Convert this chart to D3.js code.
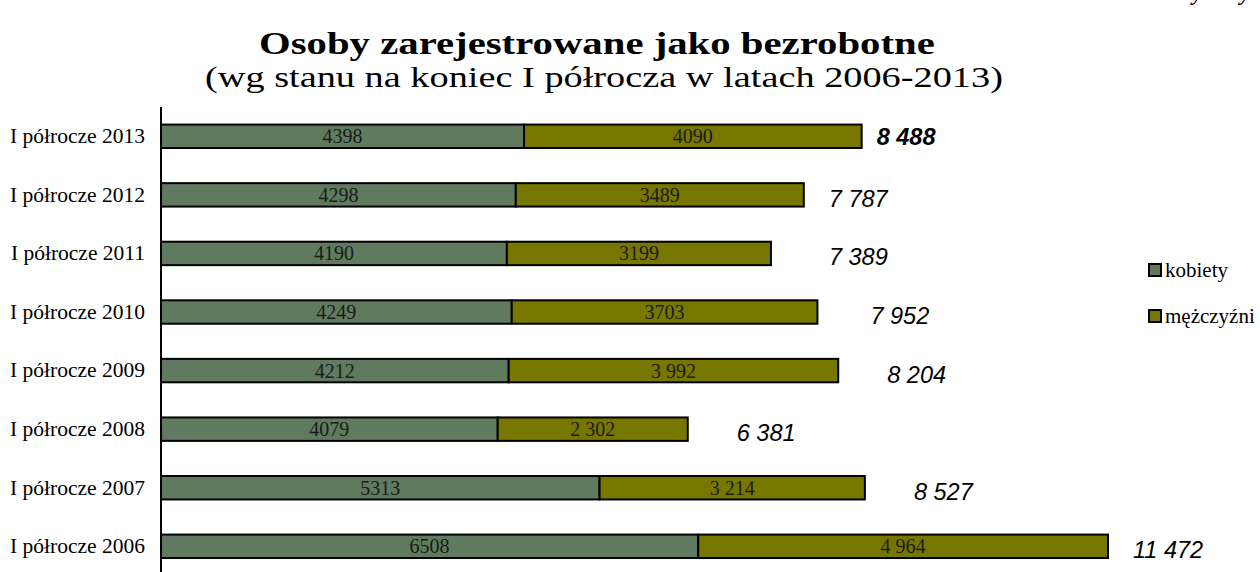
<!DOCTYPE html>
<html><head><meta charset="utf-8">
<script src="https://cdn.jsdelivr.net/npm/d3@7"></script>
<style>body{margin:0;background:#fff}svg{display:block}</style>
</head><body>
<svg id="c" width="1260" height="572"></svg>
<script>
const categories = ["I półrocze 2013","I półrocze 2012","I półrocze 2011","I półrocze 2010","I półrocze 2009","I półrocze 2008","I półrocze 2007","I półrocze 2006"];
const kobiety = [4398,4298,4190,4249,4212,4079,5313,6508];
const mezczyzni = [4090,3489,3199,3703,3992,2302,3214,4964];
const kobietyLabels = ["4398","4298","4190","4249","4212","4079","5313","6508"];
const mezczyzniLabels = ["4090","3489","3199","3703","3 992","2 302","3 214","4 964"];
const totals = [8488,7787,7389,7952,8204,6381,8527,11472];
const totalLabels = ["8 488","7 787","7 389","7 952","8 204","6 381","8 527","11 472"];
const seriesNames = ["kobiety","mężczyźni"];

// layout (not data)
const totalGap = [15,25,58,53,49,49,49,25];
const colors = ["#5f7a5f","#777700"];

const svg = d3.select("#c");
const x0 = 161;
const x = d3.scaleLinear().domain([0, 11472]).range([x0, 1108]);
const y = d3.scaleBand().domain(categories).range([107, 575.6]).paddingInner(0.6).paddingOuter(0.3);

svg.append("text").attr("x",1250).attr("y",0).attr("text-anchor","end")
  .attr("font-family","Liberation Serif").attr("font-style","italic").attr("font-weight","bold")
  .attr("font-size",22).text("Wykresy");

function stretched(txt, left, width, baseline, size, weight){
  const t = svg.append("text").attr("x",0).attr("y",0)
    .attr("font-family","Liberation Serif").attr("font-weight",weight).attr("font-size",size).text(txt);
  const w = t.node().getComputedTextLength();
  t.attr("transform",`translate(${left},${baseline}) scale(${width/w},1)`);
}
stretched("Osoby zarejestrowane jako bezrobotne", 259, 676, 54, 31, "bold");
stretched("(wg stanu na koniec I półrocza w latach 2006-2013)", 205, 798, 87, 30, "normal");

const rows = categories.map((c,i)=>({c,i,k:kobiety[i],m:mezczyzni[i]}));

const g = svg.append("g");
g.selectAll("rect.k").data(rows).join("rect").attr("class","k")
  .attr("x", d=>x(0)).attr("y", d=>y(d.c)).attr("width", d=>x(d.k)-x(0)).attr("height", y.bandwidth())
  .attr("fill", colors[0]).attr("stroke","#000").attr("stroke-width",2);
g.selectAll("rect.m").data(rows).join("rect").attr("class","m")
  .attr("x", d=>x(d.k)).attr("y", d=>y(d.c)).attr("width", d=>x(d.k+d.m)-x(d.k)).attr("height", y.bandwidth())
  .attr("fill", colors[1]).attr("stroke","#000").attr("stroke-width",2);

g.selectAll("text.kl").data(rows).join("text").attr("class","kl")
  .attr("x", d=>(x(0)+x(d.k))/2).attr("y", d=>y(d.c)+y.bandwidth()/2+7)
  .attr("text-anchor","middle").attr("font-family","Liberation Serif").attr("font-size",20).attr("fill","#1a1a1a")
  .text(d=>kobietyLabels[d.i]);
g.selectAll("text.ml").data(rows).join("text").attr("class","ml")
  .attr("x", d=>(x(d.k)+x(d.k+d.m))/2).attr("y", d=>y(d.c)+y.bandwidth()/2+7)
  .attr("text-anchor","middle").attr("font-family","Liberation Serif").attr("font-size",20).attr("fill","#1a1a1a")
  .text(d=>mezczyzniLabels[d.i]);

g.selectAll("text.tl").data(rows).join("text").attr("class","tl")
  .attr("x", d=>x(totals[d.i])+totalGap[d.i]).attr("y", d=>y(d.c)+y.bandwidth()/2+(d.i===0?9:12))
  .attr("font-family","Liberation Sans").attr("font-style","italic")
  .attr("font-weight", d=>d.i===0?"bold":"normal").attr("font-size",23.5).attr("fill","#000")
  .text(d=>totalLabels[d.i]);

const ax = svg.append("g").attr("transform",`translate(${x0},0)`)
  .call(d3.axisLeft(y).tickSize(0).tickPadding(16));
ax.select(".domain").attr("stroke","#000").attr("stroke-width",2).attr("d","M0,107V575.6");
ax.selectAll("text").attr("font-family","Liberation Serif").attr("font-size",21.5).attr("fill","#000");

const lg = svg.append("g");
seriesNames.forEach((n,i)=>{
  const ly = 270 + i*46;
  lg.append("rect").attr("x",1149).attr("y",ly-6).attr("width",12).attr("height",12)
    .attr("fill",colors[i]).attr("stroke","#000").attr("stroke-width",2);
  lg.append("text").attr("x",1165).attr("y",ly+7).attr("font-family","Liberation Serif").attr("font-size",21)
    .attr("fill","#000").text(n);
});
</script>
</body></html>
